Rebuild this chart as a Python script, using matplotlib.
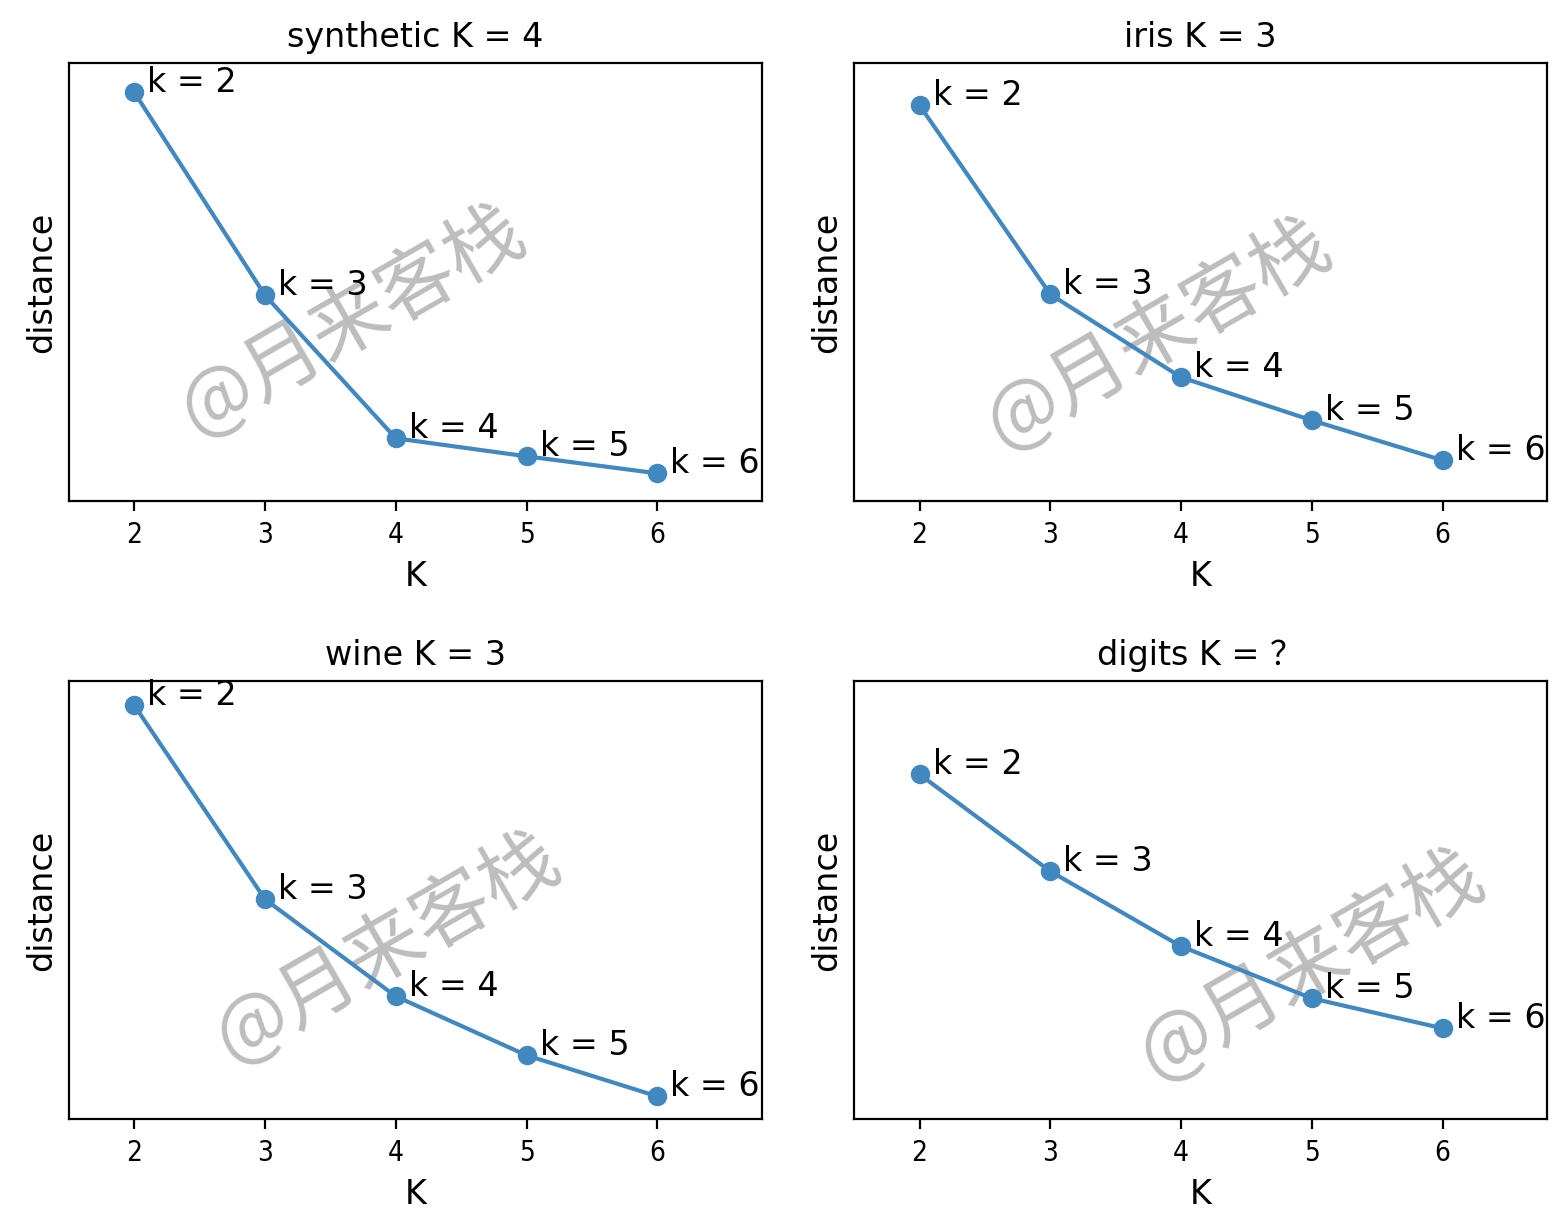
import matplotlib
matplotlib.use('Agg')
import matplotlib.pyplot as plt

plt.rcParams['font.family'] = ['DejaVu Sans', 'Noto Sans CJK SC']

ks = [2, 3, 4, 5, 6]
titles = ['synthetic K = 4', 'iris K = 3', 'wine K = 3', 'digits K = ？']
synthetic = [409, 206, 63, 45, 28]
iris = [396, 207, 124, 81, 41]
wine = [414, 220, 123, 64, 23]
digits = [345, 248, 173, 121, 91]
# watermark positions in axes fraction
marks = [(0.41, 0.41), (0.44, 0.38), (0.46, 0.39), (0.66, 0.35)]

fig, axes = plt.subplots(2, 2, figsize=(7.83, 6.09), dpi=200)
plt.subplots_adjust(left=0.044, right=0.988, top=0.948, bottom=0.081,
                    wspace=0.133, hspace=0.411)

for ax, title, dist, (mx, my) in zip(axes.flat, titles, [synthetic, iris, wine, digits], marks):
    ax.plot(ks, dist, color='#4288c0', marker='o', markersize=6, linewidth=1.5)
    for k, d in zip(ks, dist):
        ax.text(k + 0.1, d, 'k = %d' % k, fontsize=12)
    ax.set_title(title, fontsize=12)
    ax.set_xlabel('K', fontsize=12)
    ax.set_ylabel('distance', fontsize=12)
    ax.set_yticks([])
    ax.set_xticks(ks)
    for lab in ax.get_xticklabels():
        lab.set_fontstretch('condensed')
        lab.set_fontsize(10)
    ax.set_xlim(1.5, 6.8)
    ax.set_ylim(0, 438)
    ax.text(mx, my, '@月来客栈', transform=ax.transAxes, fontsize=28,
            color='#bdbdbd', rotation=30, ha='center', va='center',
            family=['Noto Sans CJK SC'], fontstyle='italic', zorder=0)

plt.savefig('out.png', dpi=200)
